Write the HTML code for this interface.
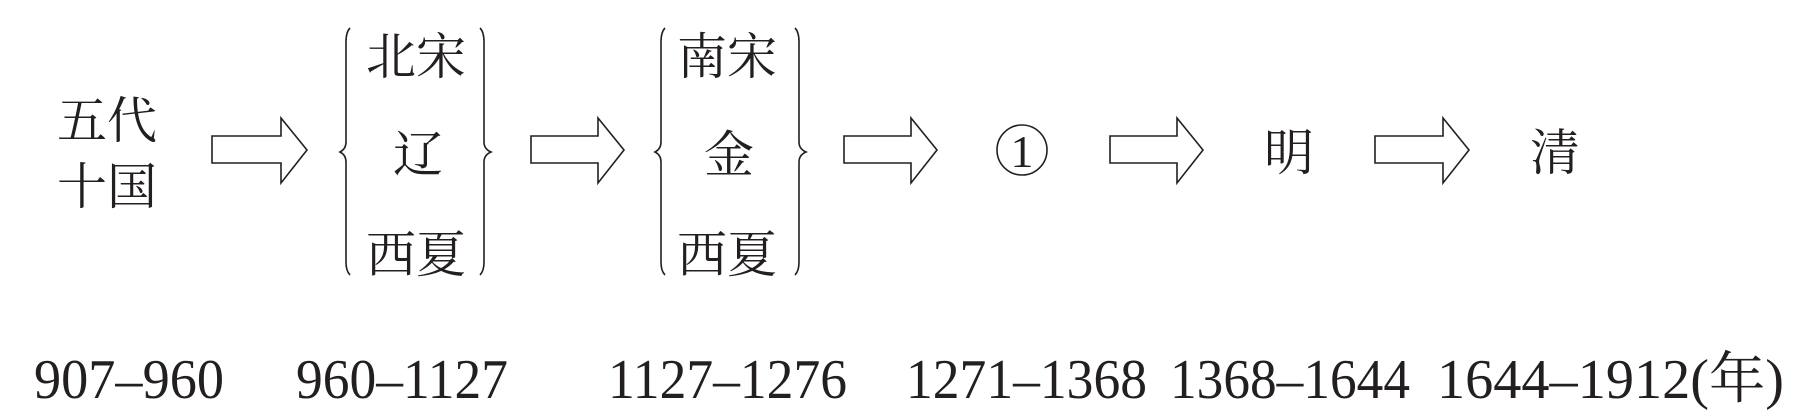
<!DOCTYPE html>
<html><head><meta charset="utf-8"><style>
html,body{margin:0;padding:0;background:#fff;width:1793px;height:417px;overflow:hidden}
svg{display:block}
.c{font-family:"Liberation Serif","Noto Serif CJK SC",serif;font-size:50px;fill:#231f20}
.n{font-family:"Liberation Serif","Noto Serif CJK SC",serif;font-size:56px;fill:#231f20}
</style></head><body>
<svg width="1793" height="417" viewBox="0 0 1793 417" xmlns="http://www.w3.org/2000/svg">
<g fill="none" stroke="#231f20" stroke-width="1.6">
<polygon points="212,136 281,136 281,118 307,150 281,183 281,163 212,163"/>
<polygon points="531,136 598,136 598,118 624,150 598,183 598,163 531,163"/>
<polygon points="844,136 911,136 911,118 937,150 911,183 911,163 844,163"/>
<polygon points="1110,136 1177,136 1177,118 1203,150 1177,183 1177,163 1110,163"/>
<polygon points="1375,136 1443,136 1443,118 1469,150 1443,183 1443,163 1375,163"/>
<path d="M350,28 Q346,32 346,42 L346,142 Q346,149 340,152 Q346,155 346,162 L346,262 Q346,271 350,275"/>
<path d="M480,28 Q484,32 484,42 L484,142 Q484,149 491,152 Q484,155 484,162 L484,262 Q484,271 480,275"/>
<path d="M665,28 Q661,32 661,42 L661,142 Q661,149 655,152 Q661,155 661,162 L661,262 Q661,271 665,275"/>
<path d="M795,28 Q799,32 799,42 L799,142 Q799,149 806,152 Q799,155 799,162 L799,262 Q799,271 795,275"/>
<circle cx="1022" cy="150" r="25"/>
</g>
<text class="c" x="57" y="138">五代</text>
<text class="c" x="57" y="204">十国</text>
<text class="c" x="366" y="74">北宋</text>
<text class="c" x="393" y="172">辽</text>
<text class="c" x="366" y="272">西夏</text>
<text class="c" x="677" y="74">南宋</text>
<text class="c" x="704" y="172">金</text>
<text class="c" x="677" y="272">西夏</text>
<text class="n" x="1022" y="167" text-anchor="middle" style="font-size:46px">1</text>
<text class="c" x="1264" y="170">明</text>
<text class="c" x="1530" y="170">清</text>
<text class="n" x="34" y="398" textLength="190" lengthAdjust="spacingAndGlyphs">907–960</text>
<text class="n" x="296" y="398" textLength="212" lengthAdjust="spacingAndGlyphs">960–1127</text>
<text class="n" x="608" y="398" textLength="239" lengthAdjust="spacingAndGlyphs">1127–1276</text>
<text class="n" x="906" y="398" textLength="241" lengthAdjust="spacingAndGlyphs">1271–1368</text>
<text class="n" x="1170" y="398" textLength="240" lengthAdjust="spacingAndGlyphs">1368–1644</text>
<text class="n" x="1437" y="398" textLength="347" lengthAdjust="spacingAndGlyphs">1644–1912(年)</text>
</svg>
</body></html>
